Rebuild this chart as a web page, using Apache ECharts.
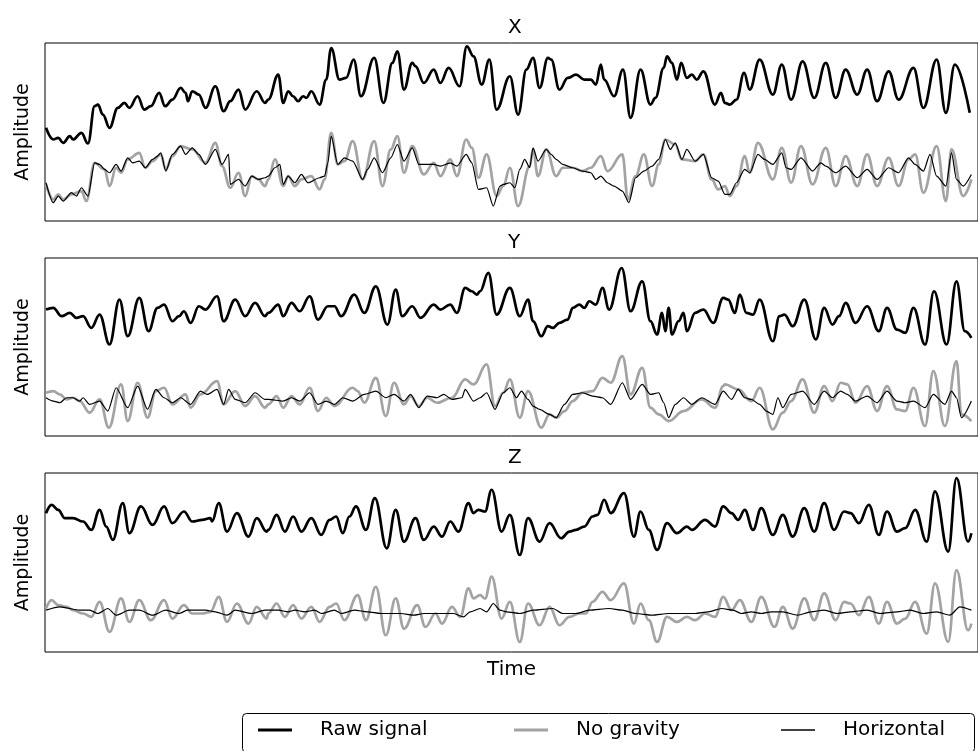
<!DOCTYPE html>
<html>
<head>
<meta charset="utf-8">
<script src="https://cdn.jsdelivr.net/npm/echarts@6/dist/echarts.min.js"></script>
<style>
  html, body { margin: 0; padding: 0; background: #fff; }
  #chart { width: 978px; height: 751px; }
</style>
</head>
<body>
<div id="chart"></div>
<script>
// [time, amplitude]
var rawX = [[3,56],[25,49],[40,50],[55,47],[75,51],[85,49],[110,53],[130,46.6],[150,69],[160,70],[175,64],[195,56],[220,68],[240,71],[255,68],[280,75],[300,67],[320,69],[345,77],[363,69],[385,73],[410,80],[425,77],[432,72],[445,78],[465,76],[485,68],[515,81],[540,66],[560,72],[585,79],[605,67],[640,78],[665,71],[675,73],[705,88],[720,71],[735,78],[750,75],[765,72],[780,75],[790,74],[805,78],[830,70],[850,85],[865,104],[890,85],[910,86],[933,97],[955,75],[995,98],[1023,71],[1050,95],[1065,102],[1085,79],[1110,95],[1120,93],[1145,83],[1175,91],[1195,83],[1220,92],[1253,81],[1275,105],[1295,99],[1320,82],[1343,97],[1365,67],[1405,87],[1430,64],[1455,91],[1475,98],[1495,80],[1520,98],[1530,97],[1555,79],[1580,86],[1605,88],[1630,85],[1650,85],[1665,82],[1680,94],[1690,85],[1720,75],[1747,91],[1770,62],[1800,91],[1830,70],[1845,74],[1870,92],[1880,99],[1895,95],[1910,85],[1923,95],[1940,86],[1955,88],[1970,85],[1990,90],[2025,70],[2043,77],[2055,71],[2070,70],[2090,73],[2113,89],[2130,79],[2160,97],[2200,76],[2227,94],[2255,73],[2290,96],[2325,74],[2360,95],[2390,74],[2420,91],[2455,76],[2485,91],[2515,72],[2550,90],[2580,73],[2625,92],[2655,68],[2695,97],[2723,65],[2750,94],[2795,65]];
var noGravX = [[3,22],[25,13],[40,16],[55,13],[80,16],[110,18],[125,12],[150,35],[180,31],[195,21],[215,32],[230,29],[250,37],[285,41],[303,32],[325,36],[350,40],[365,31],[385,39],[410,45],[445,43],[485,35],[515,47],[535,33],[560,20],[585,29],[605,15],[625,27],[645,25],[665,21],[675,25],[695,37],[720,21],[735,27],[755,21],[775,25],[805,27],[830,19],[845,25],[865,53],[885,34],[905,36],[930,48],[960,25],[995,48],[1020,21],[1045,43],[1065,51],[1085,29],[1110,45],[1145,28],[1175,35],[1195,27],[1225,37],[1245,27],[1273,49],[1290,44],[1310,26],[1335,40],[1365,15],[1385,21],[1405,32],[1430,9],[1465,33],[1475,43],[1490,27],[1515,43],[1545,27],[1565,32],[1595,32],[1625,30],[1650,32],[1680,39],[1700,30],[1745,40],[1762,13],[1785,27],[1810,40],[1835,21],[1855,34],[1875,49],[1905,46],[1925,37],[1965,36],[1990,40],[2015,25],[2035,19],[2055,21],[2070,15],[2090,21],[2115,39],[2130,29],[2155,47],[2200,25],[2227,44],[2255,23],[2285,45],[2320,22],[2360,44],[2390,21],[2420,39],[2455,21],[2485,40],[2515,21],[2550,38],[2580,21],[2610,37],[2630,40],[2655,17],[2695,45],[2723,12],[2740,43],[2775,15],[2800,25]];
var horizX = [[3,23],[25,11],[40,15],[55,12],[80,17],[95,15],[110,20],[130,15],[150,35],[165,34],[180,31],[195,29],[215,34],[230,30],[250,38],[265,35],[285,36],[303,32],[325,37],[340,39],[350,41],[365,30],[385,40],[410,45],[425,40],[445,44],[465,40],[485,34],[515,43],[535,34],[555,40],[560,22],[585,25],[605,21],[625,27],[645,25],[665,26],[675,27],[695,32],[710,34],[720,22],[735,27],[755,23],[775,28],[795,23],[830,26],[845,27],[855,35],[865,51],[885,34],[905,38],[930,36],[960,25],[975,31],[995,38],[1020,29],[1045,38],[1065,46],[1085,36],[1110,44],[1130,34],[1145,34],[1175,34],[1195,33],[1225,35],[1245,33],[1273,40],[1290,35],[1310,19],[1335,20],[1355,9],[1375,21],[1385,22],[1405,23],[1420,20],[1435,31],[1450,37],[1465,32],[1475,44],[1490,36],[1515,43],[1530,40],[1545,37],[1565,34],[1595,32],[1625,30],[1650,29],[1665,25],[1680,27],[1700,23],[1720,21],[1745,18],[1765,11],[1785,26],[1810,30],[1835,33],[1855,37],[1875,49],[1890,43],[1905,47],[1925,37],[1940,43],[1965,36],[1990,40],[2015,26],[2035,24],[2055,16],[2070,16],[2090,23],[2115,31],[2130,29],[2155,40],[2175,37],[2200,34],[2227,41],[2240,32],[2255,31],[2285,38],[2320,30],[2345,35],[2360,33],[2390,29],[2420,33],[2455,26],[2485,31],[2515,25],[2550,32],[2580,29],[2610,38],[2630,34],[2655,30],[2675,40],[2695,27],[2723,21],[2740,41],[2755,25],[2775,21],[2800,28]];

var rawY = [[3,76],[25,77],[50,72],[75,74],[95,71],[115,72],[140,65],[165,73],[195,55],[225,82],[250,60],[285,83],[313,63],[340,77],[360,79],[385,69],[405,72],[420,75],[440,68],[465,78],[485,76],[520,84],[540,69],[575,82],[605,72],[635,80],[665,72],[675,74],[705,79],[720,72],[745,80],[770,75],[800,84],[825,70],[855,78],[875,78],[895,72],[935,85],[965,74],[1000,90],[1035,67],[1060,88],[1080,72],[1110,78],[1135,71],[1175,79],[1195,76],[1225,79],[1245,74],[1270,89],[1290,87],[1305,85],[1315,87],[1340,98],[1365,73],[1405,89],[1435,72],[1460,82],[1475,69],[1500,60],[1520,66],[1535,65],[1555,68],[1580,70],[1595,77],[1615,79],[1630,77],[1645,81],[1665,79],[1685,89],[1705,76],[1743,101],[1770,75],[1805,93],[1830,69],[1850,61],[1865,74],[1875,63],[1885,77],[1895,61],[1915,69],[1930,74],[1940,63],[1965,74],[1990,76],[2020,68],[2050,83],[2065,82],[2085,74],[2100,85],[2120,74],[2140,73],[2160,82],[2200,57],[2220,72],[2235,73],[2260,66],[2295,82],[2330,58],[2355,77],[2380,67],[2400,72],[2420,80],[2450,68],[2485,78],[2520,63],[2545,77],[2575,64],[2600,62],[2625,77],[2660,55],[2687,87],[2725,55],[2755,93],[2780,63],[2800,59]];
var noGravY = [[3,26],[25,27],[45,25],[65,22],[85,23],[105,21],[135,14],[165,22],[193,5],[230,31],[250,9],[280,32],[310,11],[335,27],[360,29],[385,19],[425,25],[440,17],[470,25],[520,33],[540,19],[575,27],[605,18],[635,24],[665,17],[675,19],[700,24],[720,17],[745,24],[770,19],[800,29],[825,15],[850,23],[875,18],[930,29],[945,27],[965,20],[1000,35],[1030,12],[1055,32],[1085,19],[1105,24],[1130,18],[1155,23],[1185,20],[1230,23],[1270,34],[1295,31],[1335,43],[1360,18],[1385,26],[1405,34],[1435,11],[1460,27],[1500,5],[1525,13],[1545,11],[1570,15],[1595,21],[1625,26],[1655,27],[1685,35],[1710,32],[1745,48],[1770,25],[1805,41],[1830,17],[1855,13],[1885,9],[1930,15],[1985,22],[2025,17],[2050,30],[2055,31],[2095,28],[2135,21],[2160,29],[2200,4],[2230,14],[2255,21],[2290,34],[2325,14],[2355,30],[2380,21],[2405,32],[2425,31],[2450,20],[2485,30],[2515,15],[2545,30],[2575,16],[2600,15],[2625,29],[2660,6],[2685,39],[2720,6],[2755,45],[2770,13],[2800,9]];
var horizY = [[3,23],[25,21],[45,20],[65,23],[85,23],[105,21],[115,23],[135,19],[165,21],[190,15],[215,29],[250,17],[280,30],[310,16],[335,28],[360,23],[385,20],[410,23],[440,19],[470,27],[490,25],[520,28],[540,19],[555,28],[575,22],[605,20],[635,26],[665,22],[675,22],[720,21],[745,23],[770,21],[800,26],[825,19],[850,21],[875,19],[900,23],[930,21],[965,25],[1000,27],[1030,23],[1055,25],[1085,21],[1105,25],[1130,17],[1155,24],[1185,23],[1205,25],[1230,22],[1260,23],[1270,28],[1295,21],[1315,23],[1335,26],[1360,16],[1385,26],[1405,29],[1425,23],[1440,27],[1460,22],[1475,18],[1495,16],[1525,13],[1545,11],[1570,19],[1595,25],[1625,26],[1655,24],[1685,23],[1710,19],[1745,32],[1770,22],[1805,31],[1830,25],[1855,26],[1870,20],[1885,11],[1905,19],[1930,23],[1955,19],[1985,23],[2025,19],[2050,27],[2075,22],[2095,28],[2115,23],[2135,22],[2160,19],[2180,15],[2200,13],[2215,23],[2230,17],[2255,25],[2290,27],[2325,19],[2355,27],[2380,23],[2405,27],[2425,25],[2450,21],[2485,24],[2515,20],[2545,27],[2575,21],[2600,20],[2625,21],[2660,17],[2685,25],[2720,19],[2740,27],[2755,23],[2770,11],[2800,21]];

var rawZ = [[3,83],[20,88],[40,85],[60,80],[85,80],[115,78],[140,73],[165,85],[185,75],[205,67],[235,89],[255,71],[290,87],[325,76],[360,87],[385,77],[420,84],[445,78],[475,79],[500,80],[505,78],[525,89],[550,72],[580,83],[615,69],[640,80],[670,72],[675,73],[700,82],[725,72],[750,81],[775,72],[805,80],[835,70],[860,79],[880,81],[900,71],[920,81],[940,87],[970,73],[997,92],[1033,62],[1060,85],[1085,66],[1120,80],[1145,67],[1175,75],[1200,69],[1225,78],[1250,72],[1280,89],[1295,83],[1310,85],[1330,84],[1350,97],[1380,72],[1405,82],[1435,58],[1460,80],[1495,66],[1525,77],[1560,68],[1585,72],[1605,73],[1630,75],[1655,81],[1670,82],[1690,91],[1710,83],[1750,95],[1780,69],[1800,84],[1825,73],[1850,61],[1880,77],[1910,71],[1940,75],[1955,73],[1995,79],[2025,75],[2050,87],[2075,83],[2095,79],[2115,85],[2140,73],[2165,86],[2200,70],[2230,82],[2260,69],[2295,86],[2325,72],[2355,89],[2385,73],[2415,84],[2435,83],[2460,77],[2490,88],[2520,70],[2545,84],[2575,72],[2600,74],[2630,85],[2665,66],[2690,96],[2730,60],[2755,104],[2790,66],[2800,71]];
var noGravZ = [[3,26],[20,31],[40,28],[65,27],[85,25],[115,23],[140,21],[165,30],[195,12],[230,32],[255,18],[285,31],[320,19],[360,31],[385,20],[420,28],[445,23],[475,23],[500,24],[525,33],[550,18],[580,29],[615,17],[640,27],[670,20],[675,23],[700,29],[725,21],[750,28],[775,20],[805,27],[830,18],[860,27],[880,29],[905,19],[945,34],[970,19],[1000,39],[1030,10],[1060,32],[1085,14],[1125,28],[1150,15],[1180,23],[1200,17],[1230,27],[1255,21],[1280,38],[1295,32],[1315,34],[1330,32],[1350,45],[1380,20],[1405,30],[1435,6],[1460,29],[1495,16],[1525,27],[1555,16],[1585,21],[1615,23],[1635,23],[1655,30],[1685,36],[1710,31],[1750,41],[1780,17],[1800,29],[1825,19],[1850,6],[1880,21],[1910,18],[1940,21],[1965,19],[1995,23],[2025,21],[2050,33],[2075,25],[2100,31],[2135,18],[2165,33],[2205,15],[2230,27],[2260,14],[2295,32],[2325,19],[2355,35],[2390,19],[2415,30],[2435,29],[2460,22],[2490,33],[2520,17],[2545,30],[2575,17],[2600,20],[2630,30],[2665,11],[2690,41],[2730,6],[2755,49],[2790,13],[2800,17]];
var horizZ = [[3,25],[45,27],[105,25],[135,25],[160,23],[190,26],[215,22],[255,25],[285,25],[325,22],[365,25],[405,23],[430,25],[485,25],[515,24],[550,22],[575,25],[625,23],[665,25],[705,25],[735,24],[755,25],[785,24],[815,25],[835,23],[875,25],[895,23],[935,25],[975,24],[1015,23],[1075,23],[1115,22],[1145,23],[1175,23],[1235,23],[1265,21],[1285,24],[1315,26],[1335,24],[1355,29],[1375,25],[1395,24],[1435,23],[1475,25],[1535,26],[1565,23],[1605,23],[1645,25],[1705,26],[1745,25],[1785,23],[1835,22],[1885,23],[1925,23],[1965,23],[2005,24],[2045,26],[2080,25],[2105,23],[2135,24],[2165,23],[2195,24],[2230,24],[2275,22],[2315,24],[2355,25],[2395,23],[2435,24],[2485,25],[2525,23],[2575,24],[2615,25],[2655,23],[2695,24],[2735,22],[2765,27],[2800,25]];

var panelNames = ['X', 'Y', 'Z'];
var legendNames = ['Raw signal', 'No gravity', 'Horizontal'];
var panelData = [[rawX, noGravX, horizX], [rawY, noGravY, horizY], [rawZ, noGravZ, horizZ]];

var font = 'DejaVu Sans';
var gridTops = [43, 258, 473];
var gridHeights = [178, 178, 179];

var chart = echarts.init(document.getElementById('chart'));

var grids = [], xAxes = [], yAxes = [], titles = [], series = [];
var styles = [
  { color: '#000000', width: 2.7, z: 4, smooth: 0.4 },
  { color: '#a3a3a3', width: 2.7, z: 2, smooth: 0.4 },
  { color: '#000000', width: 1.2, z: 3, smooth: 0.25 }
];

for (var i = 0; i < 3; i++) {
  grids.push({
    left: 45, top: gridTops[i], width: 940, height: gridHeights[i],
    show: true, borderColor: '#000', borderWidth: 1, backgroundColor: 'transparent'
  });
  xAxes.push({
    gridIndex: i, type: 'value', min: 0, max: 2820,
    axisLine: { show: false }, axisTick: { show: false },
    axisLabel: { show: false }, splitLine: { show: false },
    name: i === 2 ? 'Time' : '', nameLocation: 'middle', nameGap: 8,
    nameTextStyle: { fontFamily: font, fontSize: 20, color: '#000', verticalAlign: 'top' }
  });
  yAxes.push({
    gridIndex: i, type: 'value', min: 0, max: 107,
    axisLine: { show: false }, axisTick: { show: false },
    axisLabel: { show: false }, splitLine: { show: false },
    name: 'Amplitude', nameLocation: 'middle', nameGap: 12, nameRotate: 90,
    nameTextStyle: { fontFamily: font, fontSize: 19, color: '#000' }
  });
  titles.push({
    text: panelNames[i], left: 508, top: gridTops[i] - 25, padding: 0,
    textStyle: { fontFamily: font, fontSize: 20, fontWeight: 'normal', color: '#000' }
  });
  for (var k = 0; k < 3; k++) {
    series.push({
      name: legendNames[k], type: 'line', xAxisIndex: i, yAxisIndex: i,
      data: panelData[i][k], symbol: 'none', showSymbol: false,
      smooth: styles[k].smooth, smoothMonotone: 'x',
      z: styles[k].z, animation: false,
      lineStyle: { color: styles[k].color, width: styles[k].width, join: 'round' },
      itemStyle: { color: styles[k].color }
    });
  }
}

var legendLeft = [258, 514, 781];
var iconHeights = [3, 3, 1.5];
var legends = legendNames.map(function (n, k) {
  return {
    data: [n], left: legendLeft[k], top: 720, padding: 0, orient: 'horizontal',
    icon: 'rect', itemWidth: 34, itemHeight: iconHeights[k], selectedMode: false,
    textStyle: { fontFamily: font, fontSize: 20, color: '#000', padding: [0, 0, 0, 23] }
  };
});

chart.setOption({
  backgroundColor: '#fff',
  animation: false,
  title: titles,
  grid: grids,
  xAxis: xAxes,
  yAxis: yAxes,
  legend: legends,
  graphic: [{
    type: 'rect', left: 240, top: 711, silent: true,
    shape: { width: 732, height: 39, r: 4 },
    style: { fill: 'none', stroke: '#000', lineWidth: 1 }
  }],
  series: series
});
</script>
</body>
</html>
